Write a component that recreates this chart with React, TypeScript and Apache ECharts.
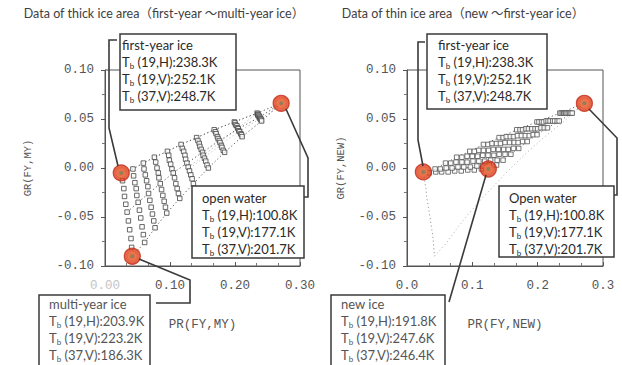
import React, { useEffect, useRef } from "react";
import * as echarts from "echarts";

// ---- thick ice area (FY / MY / OW mixing), one column per ice concentration (100% .. 10%)
const thickPR: number[][] = [
  [0.025, 0.027, 0.029, 0.030, 0.032, 0.034, 0.036, 0.038, 0.040, 0.041, 0.042],
  [0.043, 0.044, 0.046, 0.048, 0.049, 0.051, 0.053, 0.055, 0.057, 0.059, 0.061],
  [0.059, 0.060, 0.062, 0.064, 0.066, 0.067, 0.069, 0.071, 0.073, 0.075, 0.077],
  [0.076, 0.078, 0.080, 0.082, 0.083, 0.085, 0.087, 0.089, 0.091, 0.093, 0.095],
  [0.096, 0.098, 0.099, 0.101, 0.103, 0.105, 0.107, 0.109, 0.111, 0.113, 0.115],
  [0.117, 0.119, 0.121, 0.123, 0.124, 0.126, 0.128, 0.130, 0.132, 0.134, 0.136],
  [0.141, 0.143, 0.145, 0.146, 0.148, 0.150, 0.151, 0.153, 0.155, 0.157, 0.159],
  [0.168, 0.170, 0.171, 0.173, 0.174, 0.176, 0.177, 0.179, 0.180, 0.182, 0.184],
  [0.199, 0.200, 0.201, 0.203, 0.204, 0.205, 0.206, 0.207, 0.209, 0.210, 0.211],
  [0.234, 0.235, 0.235, 0.236, 0.237, 0.238, 0.238, 0.239, 0.240, 0.240, 0.241],
];
const thickGR: number[][] = [
  [-0.005, -0.013, -0.021, -0.029, -0.037, -0.045, -0.054, -0.063, -0.072, -0.081, -0.090],
  [-0.001, -0.008, -0.015, -0.021, -0.028, -0.035, -0.043, -0.051, -0.060, -0.068, -0.076],
  [0.005, -0.001, -0.007, -0.013, -0.019, -0.026, -0.033, -0.040, -0.047, -0.054, -0.061],
  [0.011, 0.006, 0.000, -0.005, -0.010, -0.016, -0.022, -0.028, -0.034, -0.040, -0.046],
  [0.017, 0.013, 0.008, 0.004, -0.001, -0.005, -0.010, -0.016, -0.021, -0.026, -0.031],
  [0.024, 0.020, 0.017, 0.013, 0.009, 0.005, 0.001, -0.003, -0.007, -0.011, -0.016],
  [0.031, 0.028, 0.025, 0.022, 0.019, 0.016, 0.013, 0.010, 0.007, 0.003, 0.000],
  [0.039, 0.037, 0.035, 0.032, 0.030, 0.028, 0.026, 0.023, 0.021, 0.018, 0.016],
  [0.047, 0.046, 0.044, 0.043, 0.041, 0.040, 0.038, 0.037, 0.035, 0.034, 0.032],
  [0.056, 0.055, 0.054, 0.054, 0.053, 0.052, 0.051, 0.050, 0.050, 0.049, 0.048],
];

// ---- thin ice area (FY / NEW / OW mixing), one row per ice concentration (100% .. 10%)
const thinPR: number[][] = [
  [0.025, 0.034, 0.044, 0.053, 0.063, 0.073, 0.083, 0.093, 0.103, 0.114, 0.125],
  [0.043, 0.051, 0.060, 0.069, 0.078, 0.087, 0.097, 0.107, 0.116, 0.126, 0.137],
  [0.059, 0.067, 0.075, 0.084, 0.092, 0.101, 0.110, 0.119, 0.128, 0.138, 0.147],
  [0.076, 0.084, 0.092, 0.100, 0.108, 0.116, 0.124, 0.133, 0.141, 0.150, 0.159],
  [0.096, 0.103, 0.110, 0.117, 0.125, 0.132, 0.140, 0.148, 0.155, 0.163, 0.171],
  [0.117, 0.124, 0.130, 0.137, 0.143, 0.150, 0.157, 0.164, 0.170, 0.177, 0.184],
  [0.141, 0.147, 0.152, 0.158, 0.163, 0.169, 0.175, 0.181, 0.187, 0.193, 0.199],
  [0.168, 0.173, 0.177, 0.182, 0.186, 0.191, 0.196, 0.200, 0.205, 0.210, 0.215],
  [0.199, 0.202, 0.206, 0.209, 0.213, 0.216, 0.219, 0.223, 0.226, 0.230, 0.233],
  [0.234, 0.236, 0.238, 0.240, 0.241, 0.243, 0.245, 0.247, 0.249, 0.251, 0.253],
];
const thinGR: number[][] = [
  [-0.005, -0.005, -0.004, -0.004, -0.004, -0.003, -0.003, -0.002, -0.002, -0.001, -0.001],
  [-0.001, -0.001, 0.000, 0.000, 0.001, 0.001, 0.001, 0.002, 0.002, 0.003, 0.003],
  [0.005, 0.005, 0.006, 0.006, 0.006, 0.007, 0.007, 0.007, 0.008, 0.008, 0.008],
  [0.011, 0.011, 0.012, 0.012, 0.012, 0.013, 0.013, 0.013, 0.014, 0.014, 0.014],
  [0.017, 0.017, 0.018, 0.018, 0.018, 0.019, 0.019, 0.019, 0.019, 0.020, 0.020],
  [0.024, 0.024, 0.025, 0.025, 0.025, 0.026, 0.026, 0.026, 0.026, 0.027, 0.027],
  [0.031, 0.031, 0.032, 0.032, 0.032, 0.033, 0.033, 0.033, 0.033, 0.034, 0.034],
  [0.039, 0.039, 0.039, 0.040, 0.040, 0.040, 0.040, 0.040, 0.041, 0.041, 0.041],
  [0.047, 0.047, 0.047, 0.047, 0.048, 0.048, 0.048, 0.048, 0.048, 0.048, 0.048],
  [0.056, 0.056, 0.056, 0.056, 0.056, 0.056, 0.056, 0.056, 0.056, 0.056, 0.056],
];

// ---- end members (red circles): [first-year, multi-year, open water] / [first-year, new, open water]
const thickKeyPR = [0.025, 0.042, 0.271];
const thickKeyGR = [-0.005, -0.09, 0.066];
const thinKeyPR = [0.025, 0.1245, 0.2715];
const thinKeyGR = [-0.004, -0.001, 0.066];

// ---- texts
const titles = [
  "Data of thick ice area（first-year ～multi-year ice）",
  "Data of thin ice area（new ～first-year ice）",
];
const xNames = ["PR(FY,MY)", "PR(FY,NEW)"];
const yNames = ["GR(FY,MY)", "GR(FY,NEW)"];
const boxNames = ["first-year ice", "open water", "multi-year ice", "first-year ice", "Open water", "new ice"];
const tb19H = ["238.3K", "100.8K", "203.9K", "238.3K", "100.8K", "191.8K"];
const tb19V = ["252.1K", "177.1K", "223.2K", "252.1K", "177.1K", "247.6K"];
const tb37V = ["248.7K", "201.7K", "186.3K", "248.7K", "201.7K", "246.4K"];

// box layout: [left, top, width, height, textLeft, textTop]
const boxLayout = [
  [120, 34, 116, 76, 122, 36],
  [192, 186, 112, 72, 202, 189],
  [39, 295, 111, 80, 49, 295],
  [427, 34, 120, 75, 438, 36],
  [499, 186, 115, 71, 509, 189],
  [331, 295, 114, 80, 341, 295],
];
const leaders = [
  [[117, 40], [109, 40], [109, 128], [118, 166]],
  [[286, 109], [308, 158], [308, 197], [304, 197]],
  [[139, 259], [190, 280], [190, 303], [156, 303]],
  [[425, 42], [418, 42], [418, 140], [423, 166]],
  [[589, 109], [617, 138], [617, 195], [614, 195]],
  [[486, 175], [449, 302]],
];

const FONT_MONO = "'Liberation Mono', 'DejaVu Sans Mono', monospace";
const FONT_SANS = "Lato, 'Noto Sans CJK JP', sans-serif";

function pts(xs: number[][], ys: number[][]) {
  const out: number[][] = [];
  xs.forEach((col, i) => col.forEach((x, j) => out.push([x, ys[i][j]])));
  return out;
}
function pickLine(xs: number[][], ys: number[][], k: number, endX: number, endY: number) {
  const out = xs.map((col, i) => [col[k], ys[i][k]]);
  out.push([endX, endY]);
  return out;
}

export default function App() {
  const ref = useRef<HTMLDivElement>(null);
  useEffect(() => {
    if (!ref.current) return;
    const chart = echarts.init(ref.current, undefined, { renderer: "svg" });

    const axisLabelBase = { color: "#555", fontFamily: FONT_MONO, fontSize: 12.5 };
    const mkX = (gi: number, digits: number, name: string, fadeZero: boolean) => ({
      type: "value",
      gridIndex: gi,
      min: 0,
      max: 0.3,
      interval: 0.1,
      axisLine: { show: true, onZero: false, lineStyle: { color: "#555", width: 1 } },
      axisTick: { show: true, inside: true, length: 4, lineStyle: { color: "#555" } },
      minorTick: { show: true, splitNumber: 3, length: 3, lineStyle: { color: "#777" } },
      splitLine: { show: false },
      axisLabel: {
        ...axisLabelBase,
        margin: 13,
        formatter: (v: number) =>
          fadeZero && Math.abs(v) < 1e-9 ? "{f|" + v.toFixed(digits) + "}" : v.toFixed(digits),
        rich: { f: { color: "#c4c4c4", fontFamily: FONT_MONO, fontSize: 12.5 } },
      },
      name,
      nameLocation: "middle",
      nameGap: 52,
      nameTextStyle: { color: "#555", fontFamily: FONT_MONO, fontSize: 12.5 },
    });
    const mkY = (gi: number, name: string, gap: number) => ({
      type: "value",
      gridIndex: gi,
      min: -0.1,
      max: 0.1,
      interval: 0.05,
      axisLine: { show: true, onZero: false, lineStyle: { color: "#555", width: 1 } },
      axisTick: { show: true, inside: false, length: 4, lineStyle: { color: "#555" } },
      minorTick: { show: true, splitNumber: 2, length: 3, lineStyle: { color: "#777" } },
      splitLine: { show: false },
      axisLabel: { ...axisLabelBase, margin: 11, formatter: (v: number) => v.toFixed(2) },
      name,
      nameLocation: "middle",
      nameGap: gap,
      nameRotate: 90,
      nameTextStyle: { color: "#555", fontFamily: FONT_MONO, fontSize: 10.5 },
    });

    const dotted = (xi: number, data: number[][], color: string) => ({
      type: "line",
      xAxisIndex: xi,
      yAxisIndex: xi,
      data,
      symbol: "none",
      silent: true,
      z: 1,
      lineStyle: { type: [1.2, 2.6], width: 1, color },
    });
    const squares = (xi: number, data: number[][], color: string, size: number) => ({
      type: "scatter",
      xAxisIndex: xi,
      yAxisIndex: xi,
      data,
      symbol: "rect",
      symbolSize: size,
      silent: true,
      z: 2,
      itemStyle: { color: "#fff", borderColor: color, borderWidth: 1 },
    });
    const circles = (xi: number, xs: number[], ys: number[]) => {
      const d = xs.map((x, i) => [x, ys[i]]);
      return [
        {
          type: "scatter", xAxisIndex: xi, yAxisIndex: xi, data: d, symbol: "circle", symbolSize: 16, z: 5, silent: true,
          itemStyle: { color: "#e0401c", borderColor: "#c02a16", borderWidth: 1.2 },
        },
        {
          type: "scatter", xAxisIndex: xi, yAxisIndex: xi, data: d, symbol: "circle", symbolSize: 9, z: 6, silent: true,
          itemStyle: { color: "#ee7a4a" },
        },
        {
          type: "scatter", xAxisIndex: xi, yAxisIndex: xi, data: d, symbol: "circle", symbolSize: 4, z: 7, silent: true,
          itemStyle: { color: "#7d7f62" },
        },
      ];
    };

    const graphic: any[] = [];
    titles.forEach((t, i) => {
      graphic.push({
        type: "text",
        x: i === 0 ? 164 : 463,
        y: 13,
        z: 100,
        style: {
          text: t,
          fill: "#404040",
          fontFamily: FONT_SANS,
          fontSize: 12.5,
          align: "center",
          verticalAlign: "middle",
        },
      });
    });
    leaders.forEach((p) => {
      graphic.push({
        type: "polyline",
        z: 100,
        shape: { points: p },
        style: { stroke: "#3a3a3a", lineWidth: 1.6, fill: null },
      });
    });
    boxLayout.forEach((b, i) => {
      graphic.push({
        type: "rect",
        z: 101,
        shape: { x: b[0], y: b[1], width: b[2], height: b[3] },
        style: { fill: "#fff", stroke: "#3a3a3a", lineWidth: 1.5 },
      });
      const faded = i === 2 || i === 5;
      graphic.push({
        type: "text",
        z: 102,
        x: b[4],
        y: b[5],
        style: {
          text:
            boxNames[i] +
            "\nT{s|b} (19,H):" + tb19H[i] +
            "\nT{s|b} (19,V):" + tb19V[i] +
            "\nT{s|b} (37,V):" + tb37V[i],
          fill: faded ? "#555" : "#2a2a2a",
          fontFamily: FONT_SANS,
          fontSize: 13,
          lineHeight: 17,
          rich: {
            s: {
              fontFamily: FONT_SANS,
              fontSize: 8,
              fill: faded ? "#555" : "#2a2a2a",
              verticalAlign: "bottom",
              lineHeight: 10,
            },
          },
        },
      });
    });

    chart.setOption({
      animation: false,
      backgroundColor: "#fff",
      grid: [
        { left: 105, top: 70, width: 195, height: 196, show: true, borderColor: "#555", borderWidth: 1 },
        { left: 407, top: 70, width: 196, height: 196, show: true, borderColor: "#555", borderWidth: 1 },
      ],
      xAxis: [mkX(0, 2, xNames[0], true), mkX(1, 1, xNames[1], false)],
      yAxis: [mkY(0, yNames[0], 72), mkY(1, yNames[1], 61)],
      series: [
        // thick panel
        dotted(0, pickLine(thinPR, thinGR, 0, thinPR[0][10], thinGR[0][10]), "#b0b0b0"),
        dotted(0, pickLine(thinPR, thinGR, 10, thickKeyPR[2], thickKeyGR[2]), "#c0c0c0"),
        dotted(0, pickLine(thickPR, thickGR, 0, thickKeyPR[2], thickKeyGR[2]), "#555"),
        dotted(0, pickLine(thickPR, thickGR, 5, thickKeyPR[2], thickKeyGR[2]), "#555"),
        dotted(0, pickLine(thickPR, thickGR, 10, thickKeyPR[2], thickKeyGR[2]), "#555"),
        squares(0, pts(thickPR, thickGR), "#444", 4.5),
        ...circles(0, thickKeyPR, thickKeyGR),
        // thin panel
        dotted(1, thickPR[0].map((x, j) => [x, thickGR[0][j]]), "#999"),
        dotted(1, pickLine(thickPR, thickGR, 10, thickKeyPR[2], thickKeyGR[2]), "#bbb"),
        dotted(1, pickLine(thinPR, thinGR, 0, thinKeyPR[2], thinKeyGR[2]), "#666"),
        dotted(1, pickLine(thinPR, thinGR, 10, thinKeyPR[2], thinKeyGR[2]), "#777"),
        squares(1, pts(thinPR, thinGR), "#555", 4.5),
        ...circles(1, thinKeyPR, thinKeyGR),
      ],
      graphic,
    });
    return () => chart.dispose();
  }, []);
  return (
    <div
      ref={ref}
      style={{ position: "fixed", left: 0, top: 0, width: 622, height: 365, background: "#fff" }}
    />
  );
}
